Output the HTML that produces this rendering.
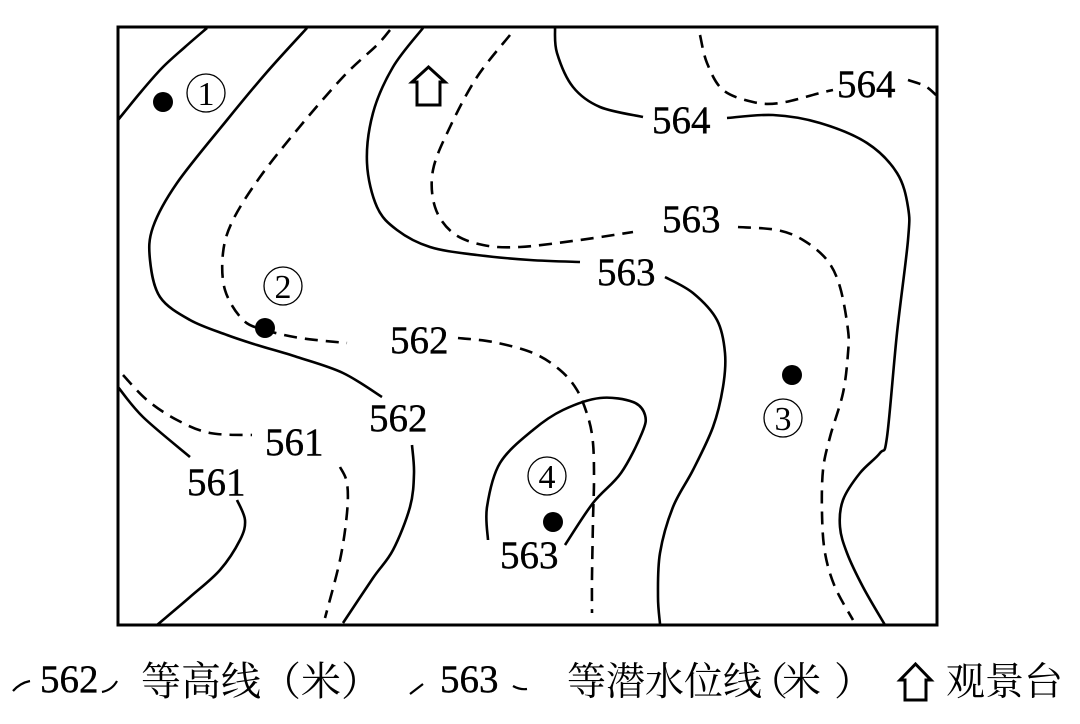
<!DOCTYPE html>
<html><head><meta charset="utf-8">
<style>
html,body{margin:0;padding:0;background:#fff;}
body{width:1080px;height:724px;overflow:hidden;}
svg{display:block;}
.num{font-family:"Liberation Serif",serif;font-size:39px;fill:#000;stroke:#000;stroke-width:0.4;}
.cj{font-family:"Liberation Serif","Noto Serif CJK SC",serif;fill:#000;}
.s{fill:none;stroke:#000;stroke-width:2.6;stroke-linecap:butt;stroke-linejoin:round;}
.d{fill:none;stroke:#000;stroke-width:2.6;stroke-dasharray:13 8;stroke-linejoin:round;}
</style></head>
<body>
<svg id="m" width="1080" height="724" viewBox="0 0 1080 724" xmlns="http://www.w3.org/2000/svg">
<rect x="118" y="27" width="819" height="598" fill="none" stroke="#000" stroke-width="3"/>
<g id="lines"></g>

<!-- labels -->
<text class="num" x="652" y="133">564</text>
<text class="num" x="837" y="97">564</text>
<text class="num" x="662" y="232">563</text>
<text class="num" x="597" y="285">563</text>
<text class="num" x="390" y="353">562</text>
<text class="num" x="369" y="431">562</text>
<text class="num" x="265" y="455">561</text>
<text class="num" x="187" y="495">561</text>
<text class="num" x="500" y="568">563</text>

<!-- circled numbers -->
<g fill="none" stroke="#000" stroke-width="1.3">
<circle cx="206" cy="93" r="19"/>
<circle cx="283" cy="286" r="19"/>
<circle cx="783" cy="418" r="19"/>
<circle cx="547" cy="476" r="19"/>
</g>
<g font-family="Liberation Serif, serif" font-size="34" text-anchor="middle" fill="#000">
<text x="206" y="105">1</text>
<text x="283" y="298">2</text>
<text x="783" y="430">3</text>
<text x="547" y="488">4</text>
</g>

<!-- dots -->
<g fill="#000">
<circle cx="163" cy="102" r="10"/>
<circle cx="265" cy="328" r="10"/>
<circle cx="792" cy="375" r="10"/>
<circle cx="553" cy="522" r="10"/>
</g>

<!-- house on map -->
<path d="M417,82 L412,82 L428.5,67 L445,82 L440,82 L440,105 L417,105 Z" fill="none" stroke="#000" stroke-width="3" stroke-linejoin="miter"/>

<!-- legend -->
<path d="M13,691 Q20,683 30,681" fill="none" stroke="#000" stroke-width="2.2"/>
<text class="num" x="40" y="692">562</text>
<path d="M102,692 Q112,690 117,681" fill="none" stroke="#000" stroke-width="2.2"/>
<text class="cj" x="141" y="695" font-size="40">等高线（米）</text>

<path d="M410,694 L423,684" fill="none" stroke="#000" stroke-width="2.2"/>
<text class="num" x="440" y="692">563</text>
<path d="M513,686 Q520,690 527,689" fill="none" stroke="#000" stroke-width="2.2"/>

<text class="cj" x="567" y="695" font-size="39">等潜水位线</text>
<text class="cj" x="749" y="695" font-size="39">（</text>
<text class="cj" x="782" y="695" font-size="39">米</text>
<text class="cj" x="834" y="695" font-size="39">）</text>

<path d="M905,680 L900,680 L915.5,664 L931,680 L926,680 L926,700 L905,700 Z" fill="none" stroke="#000" stroke-width="3" stroke-linejoin="miter"/>
<text class="cj" x="946" y="695" font-size="39">观景台</text>
</svg>

<script>
(function(){
var solid=[
 [[207,28],[185,47],[162,68],[140,93],[118,120]],
 [[307,28],[267,72],[227,120],[177,183],[153,227],[150,260],[160,297],[190,320],[227,335],[257,345],[297,357],[343,373],[382,397]],
 [[412,445],[414,473],[410,507],[393,550],[373,578],[343,623]],
 [[423,28],[393,67],[373,113],[367,163],[377,207],[397,230],[430,247],[477,255],[530,260],[580,262]],
 [[665,277],[693,293],[717,320],[725,353],[723,387],[713,427],[693,470],[673,507],[660,553],[658,597],[660,624]],
 [[555,28],[557,53],[573,87],[600,107],[643,117]],
 [[727,118],[773,115],[820,123],[867,143],[897,173],[908,207],[908,240],[897,333],[887,437],[880,453],[860,473],[843,500],[840,527],[847,553],[863,587],[885,625]],
 [[118,387],[143,417],[190,457]],
 [[237,500],[245,520],[240,540],[220,570],[190,597],[157,625]],
 [[488,540],[487,507],[500,463],[533,430],[563,410],[600,398],[633,402],[645,415],[642,433],[621,473],[593,503],[565,545]]
];
var dashed=[
 [[390,30],[377,45],[343,77],[297,130],[260,177],[233,220],[223,253],[225,290],[243,320],[265,330],[300,338],[347,343]],
 [[458,338],[493,342],[533,353],[560,370],[577,390],[588,417],[593,443],[594,480],[593,520],[592,577],[592,613]],
 [[510,35],[477,77],[450,127],[433,170],[435,207],[453,233],[483,245],[520,247],[580,240],[633,232]],
 [[738,227],[777,230],[803,240],[827,260],[840,287],[848,330],[848,353],[843,393],[830,437],[823,470],[822,513],[825,553],[835,587],[853,620]],
 [[700,35],[707,63],[723,90],[753,102],[780,103],[820,93],[833,90]],
 [[908,80],[925,86],[936,95]],
 [[123,375],[147,400],[177,420],[210,433],[252,435]],
 [[340,467],[347,483],[347,513],[340,560],[325,618]]
];
function cr(p){
 var d='M'+p[0][0]+','+p[0][1];
 for(var i=0;i<p.length-1;i++){
  var p0=p[i-1]||p[i],p1=p[i],p2=p[i+1],p3=p[i+2]||p2;
  var c1x=p1[0]+(p2[0]-p0[0])/6,c1y=p1[1]+(p2[1]-p0[1])/6;
  var c2x=p2[0]-(p3[0]-p1[0])/6,c2y=p2[1]-(p3[1]-p1[1])/6;
  d+=' C'+c1x.toFixed(1)+','+c1y.toFixed(1)+' '+c2x.toFixed(1)+','+c2y.toFixed(1)+' '+p2[0]+','+p2[1];
 }
 return d;
}
var g=document.getElementById('lines'),ns='http://www.w3.org/2000/svg';
function add(list,cls){
 list.forEach(function(p){
  var e=document.createElementNS(ns,'path');
  e.setAttribute('d',cr(p));
  e.setAttribute('class',cls);
  g.appendChild(e);
 });
}
add(solid,'s');add(dashed,'d');
})();
</script>
</body></html>
